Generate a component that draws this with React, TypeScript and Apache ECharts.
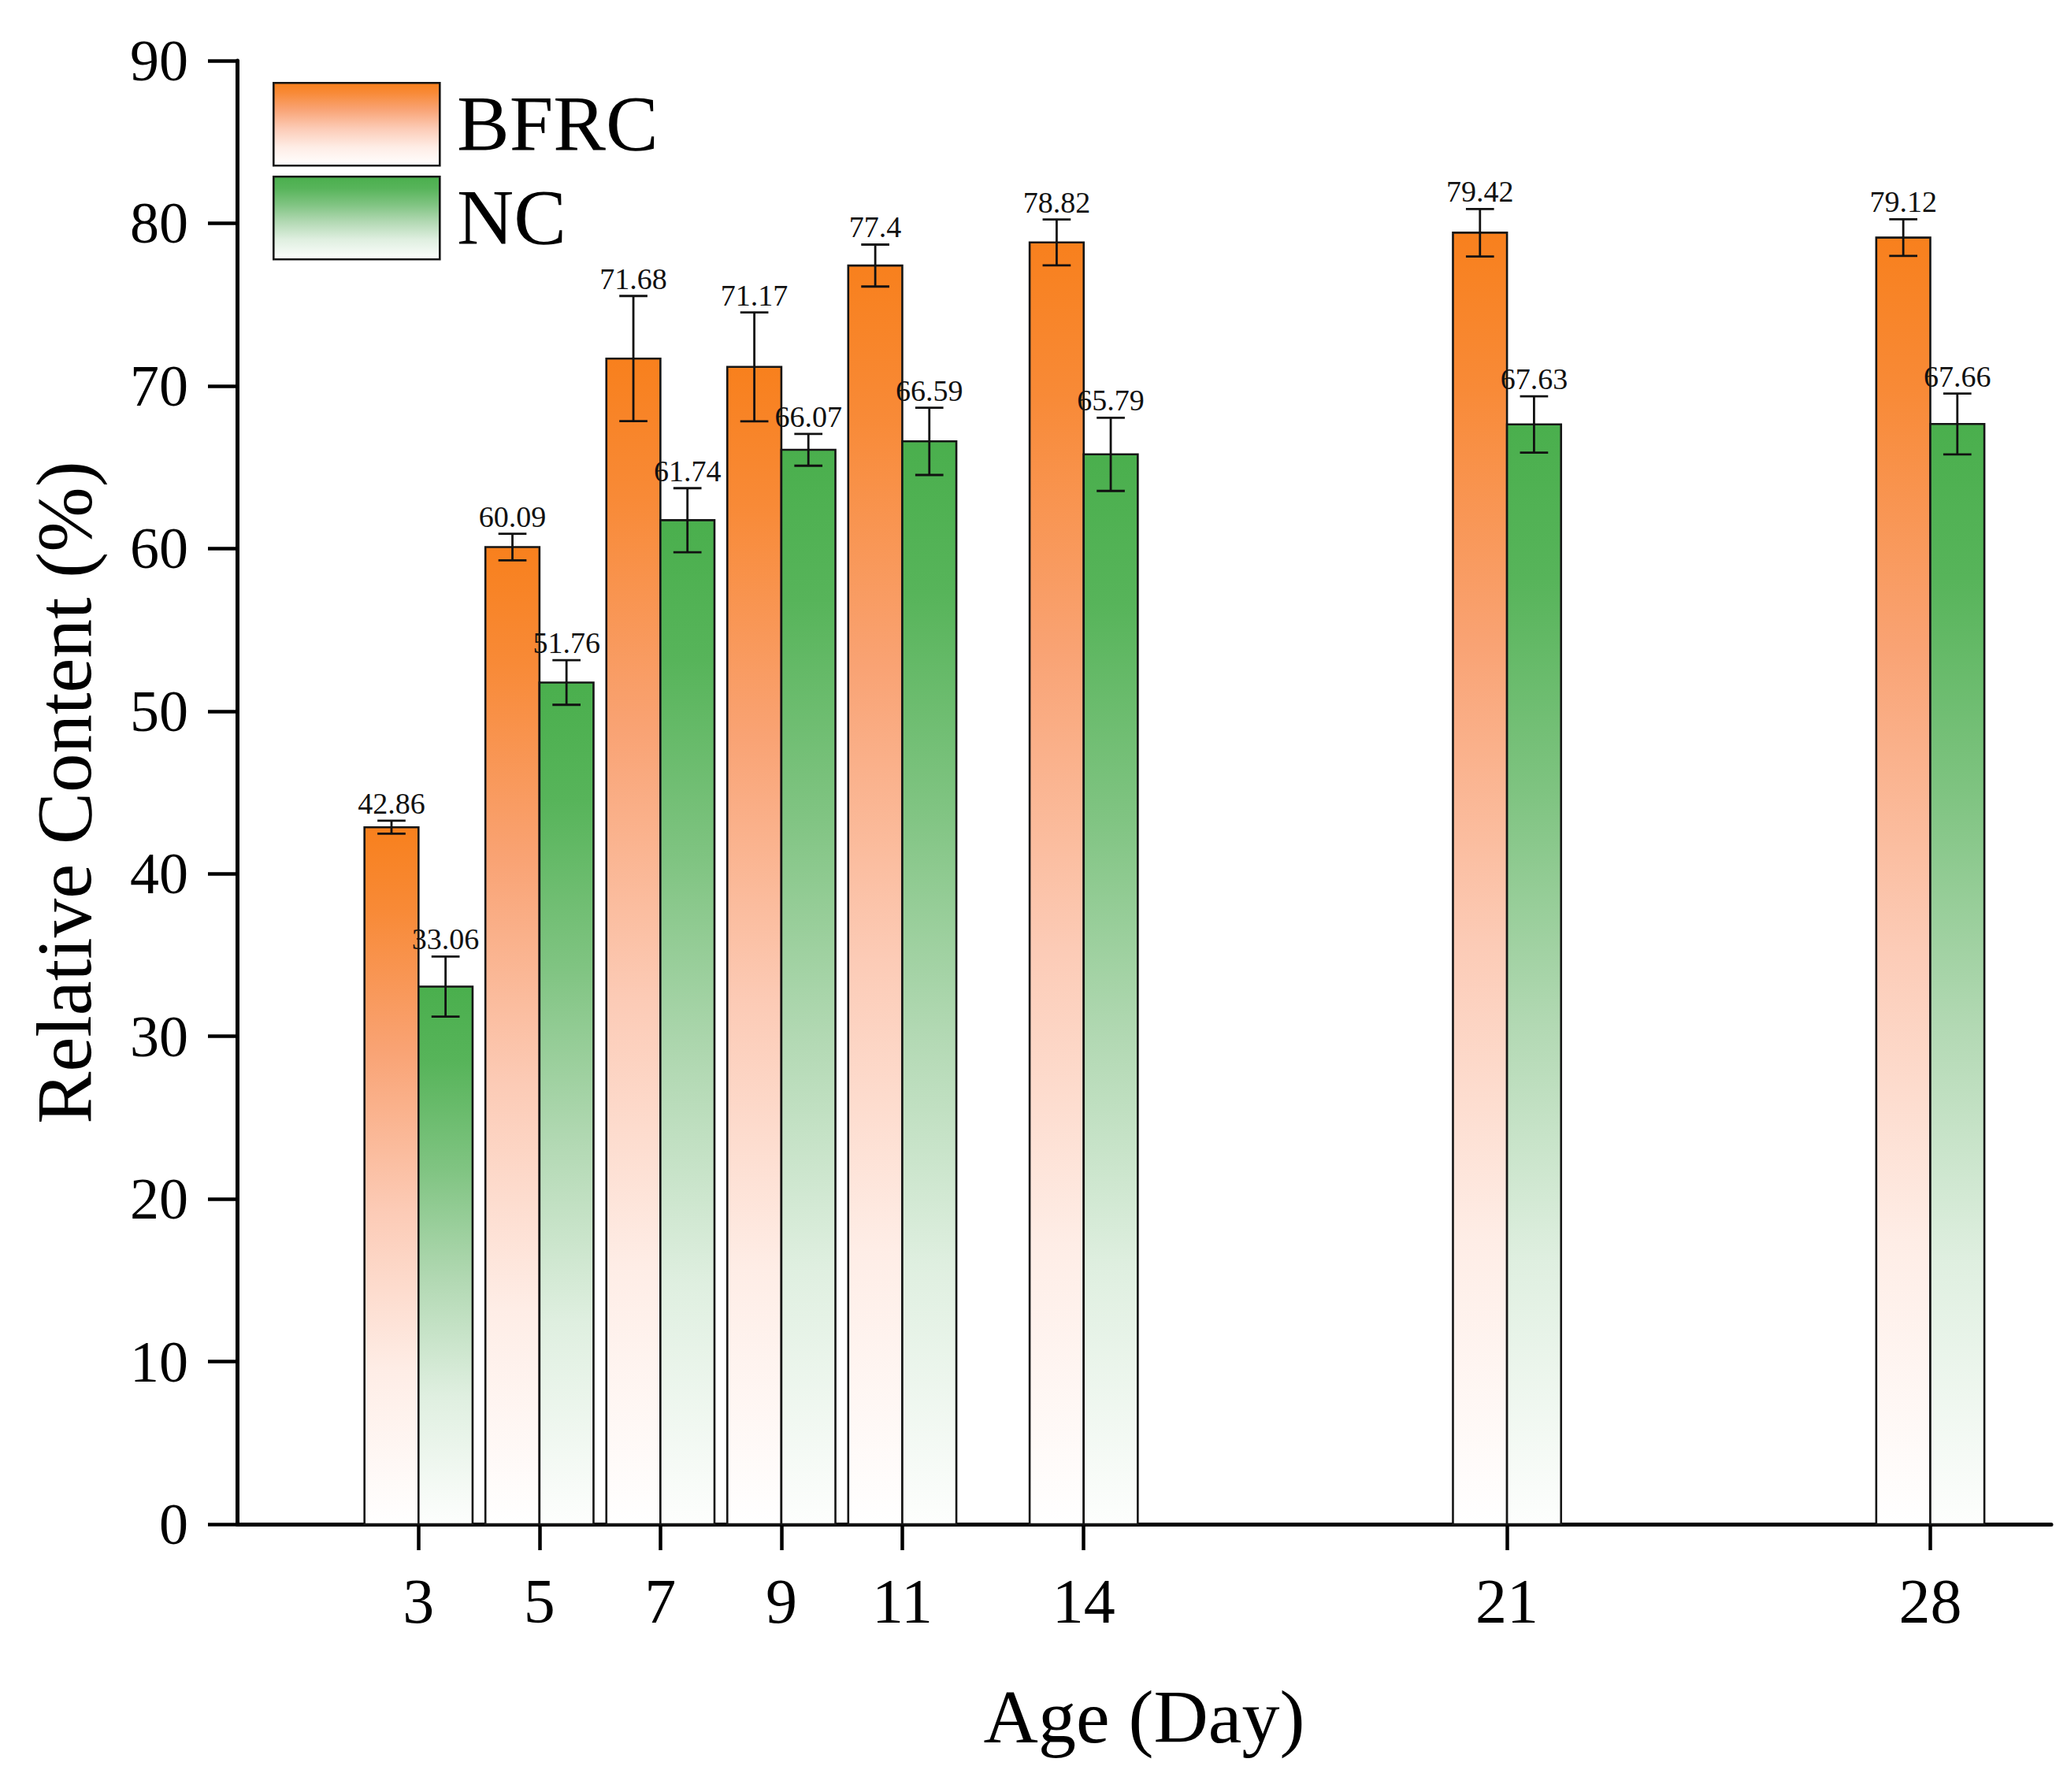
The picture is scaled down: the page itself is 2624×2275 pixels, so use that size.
import React, { useEffect, useRef } from "react";
import * as echarts from "echarts";

const days = [3, 5, 7, 9, 11, 14, 21, 28];
const seriesNames = ["BFRC", "NC"];
const bfrcValues = [42.86, 60.09, 71.68, 71.17, 77.4, 78.82, 79.42, 79.12];
const bfrcErrors = [0.4, 0.82, 3.85, 3.35, 1.29, 1.41, 1.46, 1.13];
const ncValues = [33.06, 51.76, 61.74, 66.07, 66.59, 65.79, 67.63, 67.66];
const ncErrors = [1.85, 1.37, 1.97, 0.98, 2.07, 2.25, 1.73, 1.87];
const yTicks = [0, 10, 20, 30, 40, 50, 60, 70, 80, 90];

const FONT = "'Liberation Serif', 'Times New Roman', serif";
const BAR_W = 0.894; // in days
const CAP_W = 0.465; // in days

const orangeStops = [
  { offset: 0, color: "#F8801D" },
  { offset: 0.12, color: "#F88A37" },
  { offset: 0.32, color: "#F9A374" },
  { offset: 0.55, color: "#FCCBB6" },
  { offset: 0.78, color: "#FEEDE6" },
  { offset: 1, color: "#FFFFFF" },
];
const greenStops = [
  { offset: 0, color: "#4AAF4D" },
  { offset: 0.14, color: "#57B45A" },
  { offset: 0.34, color: "#80C482" },
  { offset: 0.55, color: "#B3D9B4" },
  { offset: 0.76, color: "#DFEFE0" },
  { offset: 1, color: "#FDFEFD" },
];

function grad(stops: { offset: number; color: string }[]) {
  return new echarts.graphic.LinearGradient(0, 0, 0, 1, stops);
}

function makeSeries(idx: number, values: number[], errors: number[], stops: any) {
  const data = days.map((d, i) => [d, values[i], errors[i]]);
  return {
    type: "custom",
    name: seriesNames[idx],
    data,
    z: 2 + idx,
    clip: false,
    renderItem: (params: any, api: any) => {
      const x = api.value(0);
      const v = api.value(1);
      const e = api.value(2);
      const left = idx === 0 ? x - BAR_W : x;
      const center = left + BAR_W / 2;
      const pTop = api.coord([left, v]);
      const pBot = api.coord([left + BAR_W, 0]);
      const eTop = api.coord([center, v + e]);
      const eBot = api.coord([center, v - e]);
      const cL = api.coord([center - CAP_W / 2, v])[0];
      const cR = api.coord([center + CAP_W / 2, v])[0];
      const errStyle = { stroke: "#111111", lineWidth: 2.8 };
      return {
        type: "group",
        children: [
          {
            type: "rect",
            shape: {
              x: pTop[0],
              y: pTop[1],
              width: pBot[0] - pTop[0],
              height: pBot[1] - pTop[1],
            },
            style: { fill: grad(stops), stroke: "#151515", lineWidth: 2.6 },
          },
          {
            type: "line",
            shape: { x1: eTop[0], y1: eTop[1], x2: eBot[0], y2: eBot[1] },
            style: errStyle,
          },
          {
            type: "line",
            shape: { x1: cL, y1: eTop[1], x2: cR, y2: eTop[1] },
            style: errStyle,
          },
          {
            type: "line",
            shape: { x1: cL, y1: eBot[1], x2: cR, y2: eBot[1] },
            style: errStyle,
          },
          {
            type: "text",
            x: eTop[0],
            y: eTop[1] - 3,
            z2: 10,
            style: {
              text: String(v),
              fontSize: 38,
              fontFamily: FONT,
              fill: "#111111",
              align: "center",
              verticalAlign: "bottom",
            },
          },
        ],
      };
    },
  };
}

export default function App() {
  const ref = useRef<HTMLDivElement>(null);

  useEffect(() => {
    document.body.style.margin = "0";
    document.body.style.overflow = "hidden";
    if (!ref.current) return;
    const chart = echarts.init(ref.current, undefined, { renderer: "svg" });

    const legendBoxes = [
      { y: 104, stops: orangeStops, name: seriesNames[0] },
      { y: 223, stops: greenStops, name: seriesNames[1] },
    ];
    const graphic: any[] = [];
    legendBoxes.forEach((b) => {
      graphic.push({
        type: "rect",
        left: 346,
        top: b.y,
        shape: { x: 0, y: 0, width: 211, height: 105 },
        style: { fill: grad(b.stops), stroke: "#151515", lineWidth: 2.6 },
      });
      graphic.push({
        type: "text",
        left: 580,
        top: b.y + 52 - 50,
        style: {
          text: b.name,
          fontSize: 100,
          fontFamily: FONT,
          fill: "#000000",
          verticalAlign: "top",
        },
      });
    });

    chart.setOption({
      animation: false,
      backgroundColor: "#ffffff",
      grid: { left: 301, right: 20, top: 77, bottom: 340, containLabel: false },
      xAxis: {
        type: "value",
        min: 0,
        max: 30,
        name: "Age (Day)",
        nameLocation: "middle",
        nameGap: 196,
        nameTextStyle: { fontSize: 96, fontFamily: FONT, color: "#000" },
        axisLine: { show: true, onZero: false, lineStyle: { color: "#000", width: 5 } },
        axisTick: {
          show: true,
          inside: false,
          length: 33,
          customValues: days,
          lineStyle: { color: "#000", width: 4.5 },
        },
        axisLabel: {
          show: true,
          customValues: days,
          margin: 58,
          fontSize: 80,
          fontFamily: FONT,
          color: "#000",
        },
        splitLine: { show: false },
      },
      yAxis: {
        type: "value",
        min: 0,
        max: 90,
        interval: 10,
        name: "Relative Content (%)",
        nameLocation: "middle",
        nameGap: 170,
        nameRotate: 90,
        nameTextStyle: { fontSize: 99, fontFamily: FONT, color: "#000" },
        axisLine: { show: true, onZero: false, lineStyle: { color: "#000", width: 5 } },
        axisTick: {
          show: true,
          inside: false,
          length: 37,
          customValues: yTicks,
          lineStyle: { color: "#000", width: 4.5 },
        },
        axisLabel: {
          show: true,
          customValues: yTicks,
          margin: 62,
          fontSize: 74,
          fontFamily: FONT,
          color: "#000",
        },
        splitLine: { show: false },
      },
      graphic,
      series: [
        makeSeries(0, bfrcValues, bfrcErrors, orangeStops),
        makeSeries(1, ncValues, ncErrors, greenStops),
      ],
    });

    return () => {
      chart.dispose();
    };
  }, []);

  return <div ref={ref} style={{ width: 2624, height: 2275 }} />;
}
